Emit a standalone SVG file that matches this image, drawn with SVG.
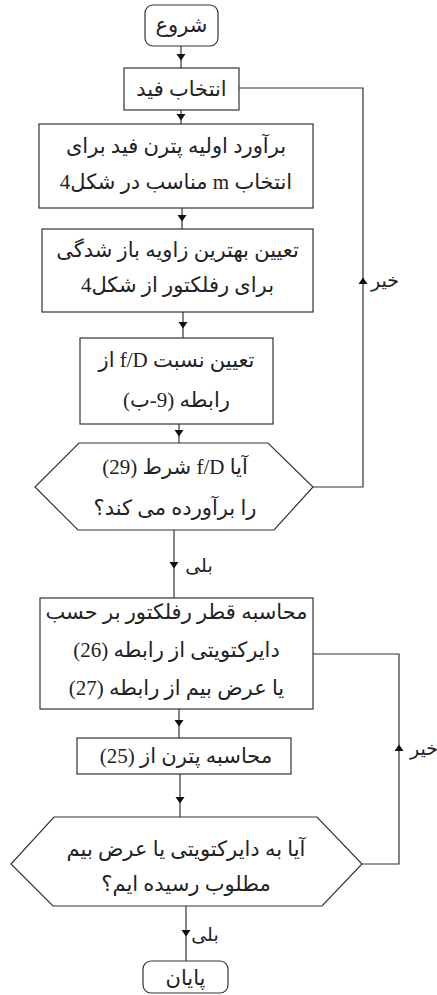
<svg xmlns="http://www.w3.org/2000/svg" width="437" height="995" viewBox="0 0 437 995">
<style>
.box{fill:#fff;stroke:#333;stroke-width:1.2}
.ln{fill:none;stroke:#333;stroke-width:1.2}
.t{font-family:"Liberation Serif","DejaVu Sans",serif;font-size:21px;fill:#222;text-anchor:middle;direction:rtl}
.lb{font-family:"Liberation Serif","DejaVu Sans",serif;font-size:19px;fill:#222;text-anchor:middle;direction:rtl}
</style>
<defs>
<path id="ah" d="M-4.5,-3 L4.5,-3 L0,3.5 Z" fill="#111"/>
</defs>
<rect width="437" height="995" fill="#fff"/>
<g id="connectors">
<path class="ln" d="M181,46 V68"/>
<path class="ln" d="M181,110 V124"/>
<path class="ln" d="M182,208 V229"/>
<path class="ln" d="M183,312 V338"/>
<path class="ln" d="M179,424 V443"/>
<path class="ln" d="M313,487 H363 V88 H239"/>
<path class="ln" d="M174,530 V598"/>
<path class="ln" d="M179,709 V738"/>
<path class="ln" d="M180,774 V817"/>
<path class="ln" d="M362,864 H399 V654 H313"/>
<path class="ln" d="M186,906 V961"/>
<use href="#ah" x="181" y="57"/>
<use href="#ah" x="181" y="117"/>
<use href="#ah" x="182" y="218"/>
<use href="#ah" x="183" y="325"/>
<use href="#ah" x="179" y="433"/>
<use href="#ah" x="174" y="565"/>
<use href="#ah" x="179" y="723"/>
<use href="#ah" x="180" y="800"/>
<use href="#ah" x="186" y="933"/>
<use href="#ah" transform="translate(363,281) rotate(180)"/>
<use href="#ah" transform="translate(399,748) rotate(180)"/>
<text class="lb" x="385" y="287">خیر</text>
<text class="lb" x="424" y="755">خیر</text>
<text class="lb" x="199" y="572">بلی</text>
<text class="lb" x="205" y="941">بلی</text>
</g>
<g id="start">
<rect class="box" x="145" y="5" width="73" height="41" rx="8"/>
<text class="t" x="181.5" y="32">شروع</text>
</g>
<g id="select-feed">
<rect class="box" x="124" y="68" width="115" height="42"/>
<text class="t" x="181.5" y="96">انتخاب فید</text>
</g>
<g id="estimate-pattern">
<rect class="box" x="39" y="124" width="274" height="84"/>
<text class="t" x="176" y="153">برآورد اولیه پترن فید برای</text>
<text class="t" x="176" y="189">انتخاب m مناسب در شکل4</text>
</g>
<g id="best-angle">
<rect class="box" x="42" y="229" width="271" height="83"/>
<text class="t" x="177.5" y="257">تعیین بهترین زاویه باز شدگی</text>
<text class="t" x="177.5" y="292">برای رفلکتور از شکل4</text>
</g>
<g id="fd-ratio">
<rect class="box" x="80" y="338" width="193" height="86"/>
<text class="t" x="176.5" y="367">تعیین نسبت f/D از</text>
<text class="t" x="176.5" y="407">رابطه (9-ب)</text>
</g>
<g id="decision-fd">
<polygon class="box" points="79,443 268,443 313,487 274,530 78,530 35,487"/>
<text class="t" x="175" y="474">آیا f/D  شرط (29)</text>
<text class="t" x="175" y="515">را برآورده می کند؟</text>
</g>
<g id="diameter">
<rect class="box" x="40" y="598" width="273" height="111"/>
<text class="t" x="176.5" y="619">محاسبه قطر رفلکتور بر حسب</text>
<text class="t" x="176.5" y="657">دایرکتویتی از رابطه (26)</text>
<text class="t" x="176.5" y="695">یا عرض بیم از رابطه (27)</text>
</g>
<g id="pattern">
<rect class="box" x="77" y="738" width="214" height="36"/>
<text class="t" x="186" y="763">محاسبه پترن از (25)</text>
</g>
<g id="decision-goal">
<polygon class="box" points="54,817 317,817 362,864 322,906 53,906 11,864"/>
<text class="t" x="186" y="856">آیا به دایرکتویتی یا عرض بیم</text>
<text class="t" x="186" y="891">مطلوب رسیده ایم؟</text>
</g>
<g id="end">
<rect class="box" x="143" y="961" width="85" height="32" rx="8"/>
<text class="t" x="185.5" y="985">پایان</text>
</g>
</svg>
